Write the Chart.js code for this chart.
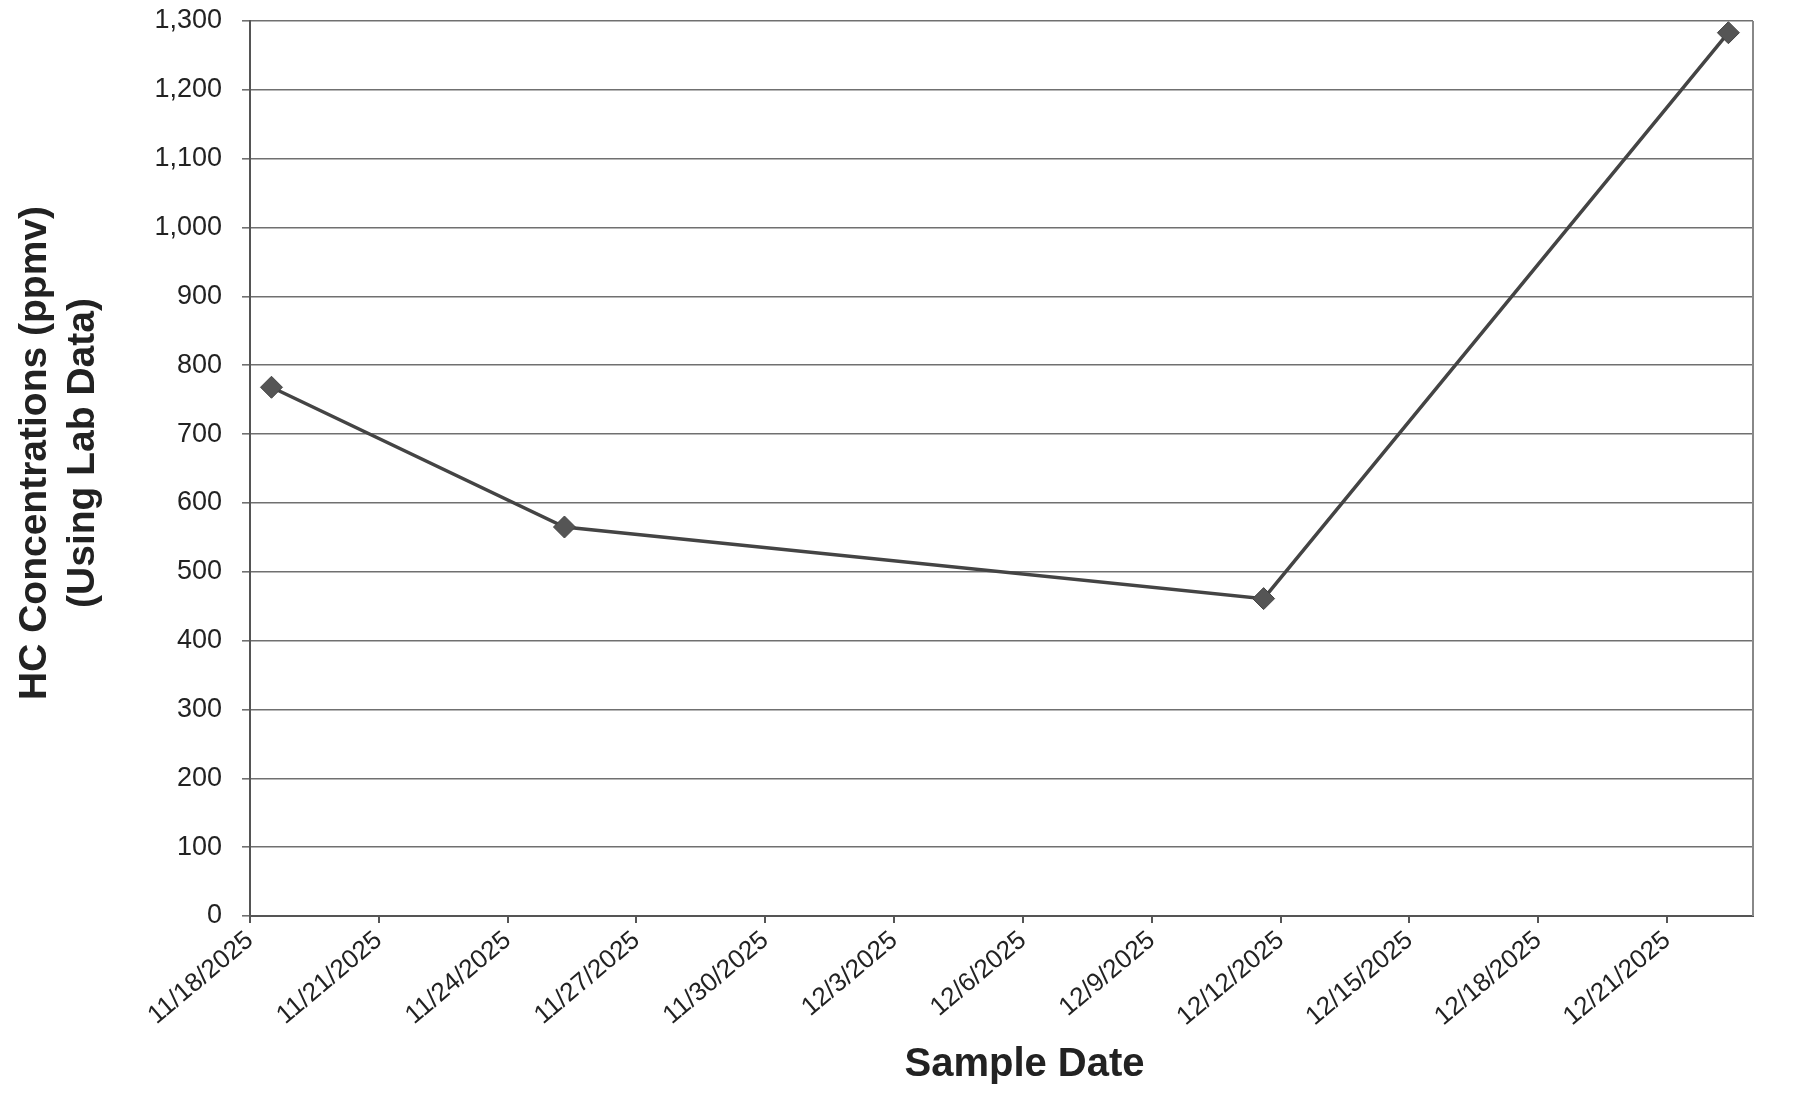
<!DOCTYPE html>
<html>
<head>
<meta charset="utf-8">
<script src="https://cdn.jsdelivr.net/npm/chart.js@4/dist/chart.umd.min.js"></script>
<style>
  html, body { margin: 0; padding: 0; background: #fff; }
  #wrap { width: 1808px; height: 1095px; }
</style>
</head>
<body>
<div id="wrap"><canvas id="c" width="1808" height="1095"></canvas></div>
<script>
// ---- data ----
const sampleDates = ['2025-11-18T12:00', '2025-11-25T07:45', '2025-12-11T14:30', '2025-12-22T10:15'];
const hcValues = [768, 565, 461, 1283];
const axisStartDate = '2025-11-18';
const axisDays = 35;          // axis spans 11/18/2025 .. 12/23/2025
const tickStepDays = 3;       // date tick every 3 days
const yMax = 1300;
const yStep = 100;
const yTitleLines = ['HC Concentrations (ppmv)', '(Using Lab Data)'];
const xTitle = 'Sample Date';

const DAY = 86400000;
const t0 = Date.parse(axisStartDate + 'T00:00:00Z');
const toDay = s => (Date.parse(s + ':00Z') - t0) / DAY;
const points = sampleDates.map((s, i) => ({ x: toDay(s), y: hcValues[i] }));
const fmtDate = v => {
  const d = new Date(t0 + v * DAY);
  return (d.getUTCMonth() + 1) + '/' + d.getUTCDate() + '/' + d.getUTCFullYear();
};

const FONT = "'Liberation Sans', Arial, sans-serif";
const TXT = '#222222';

const titlePlugin = {
  id: 'titles',
  beforeDatasetsDraw(chart) {
    const { ctx, chartArea } = chart;
    ctx.save();
    ctx.strokeStyle = '#888888';
    ctx.lineWidth = 2;
    ctx.beginPath();
    ctx.moveTo(chartArea.right, chartArea.top);
    ctx.lineTo(chartArea.right, chartArea.bottom);
    ctx.stroke();
    ctx.restore();
  },
  afterDraw(chart) {
    const { ctx, chartArea } = chart;
    ctx.save();
    ctx.fillStyle = TXT;
    ctx.font = "bold 40px " + FONT;
    ctx.textAlign = 'center';
    ctx.textBaseline = 'alphabetic';
    ctx.fillText(xTitle, (chartArea.left + chartArea.right) / 2 + 23, 1076);
    ctx.font = "bold 39px " + FONT;
    const cy = 453;
    const xs = [35, 83];
    ctx.textBaseline = 'middle';
    yTitleLines.forEach((line, i) => {
      ctx.save();
      ctx.translate(xs[i], cy);
      ctx.rotate(-Math.PI / 2);
      ctx.fillText(line, 0, 0);
      ctx.restore();
    });
    ctx.restore();
  }
};

new Chart(document.getElementById('c'), {
  type: 'line',
  data: {
    datasets: [{
      data: points,
      borderColor: '#444444',
      borderWidth: 3.5,
      pointStyle: 'rectRot',
      pointRadius: 11,
      pointBackgroundColor: '#555555',
      pointBorderColor: '#444444',
      pointBorderWidth: 1,
      tension: 0,
      fill: false
    }]
  },
  options: {
    responsive: false,
    animation: false,
    devicePixelRatio: 1,
    layout: { padding: { top: 21, right: 55, left: 0, bottom: 0 } },
    plugins: { legend: { display: false }, tooltip: { enabled: false }, title: { display: false } },
    scales: {
      x: {
        type: 'linear',
        min: 0,
        max: axisDays,
        afterFit(scale) { scale.height = 179; scale.paddingLeft = 0; scale.paddingRight = 0; },
        afterBuildTicks(scale) {
          scale.ticks = scale.ticks.filter(t => Math.abs(t.value % tickStepDays) < 1e-9);
        },
        ticks: {
          stepSize: tickStepDays,
          autoSkip: false,
          maxRotation: 40,
          minRotation: 40,
          padding: 2,
          color: TXT,
          font: { family: FONT, size: 26 },
          callback: v => fmtDate(v)
        },
        grid: { drawOnChartArea: false, drawTicks: true, tickLength: 7, color: '#555555', lineWidth: 2 },
        border: { display: true, color: '#555555', width: 2 }
      },
      y: {
        min: 0,
        max: yMax,
        afterFit(scale) { scale.width = 250; scale.paddingTop = 0; scale.paddingBottom = 0; },
        ticks: {
          stepSize: yStep,
          padding: 20,
          color: TXT,
          font: { family: FONT, size: 27 },
          callback: v => v.toLocaleString('en-US')
        },
        grid: { color: '#707070', lineWidth: 1.6, tickLength: 8, drawTicks: true },
        border: { display: true, color: '#555555', width: 2 }
      }
    }
  },
  plugins: [titlePlugin]
});
</script>
</body>
</html>
